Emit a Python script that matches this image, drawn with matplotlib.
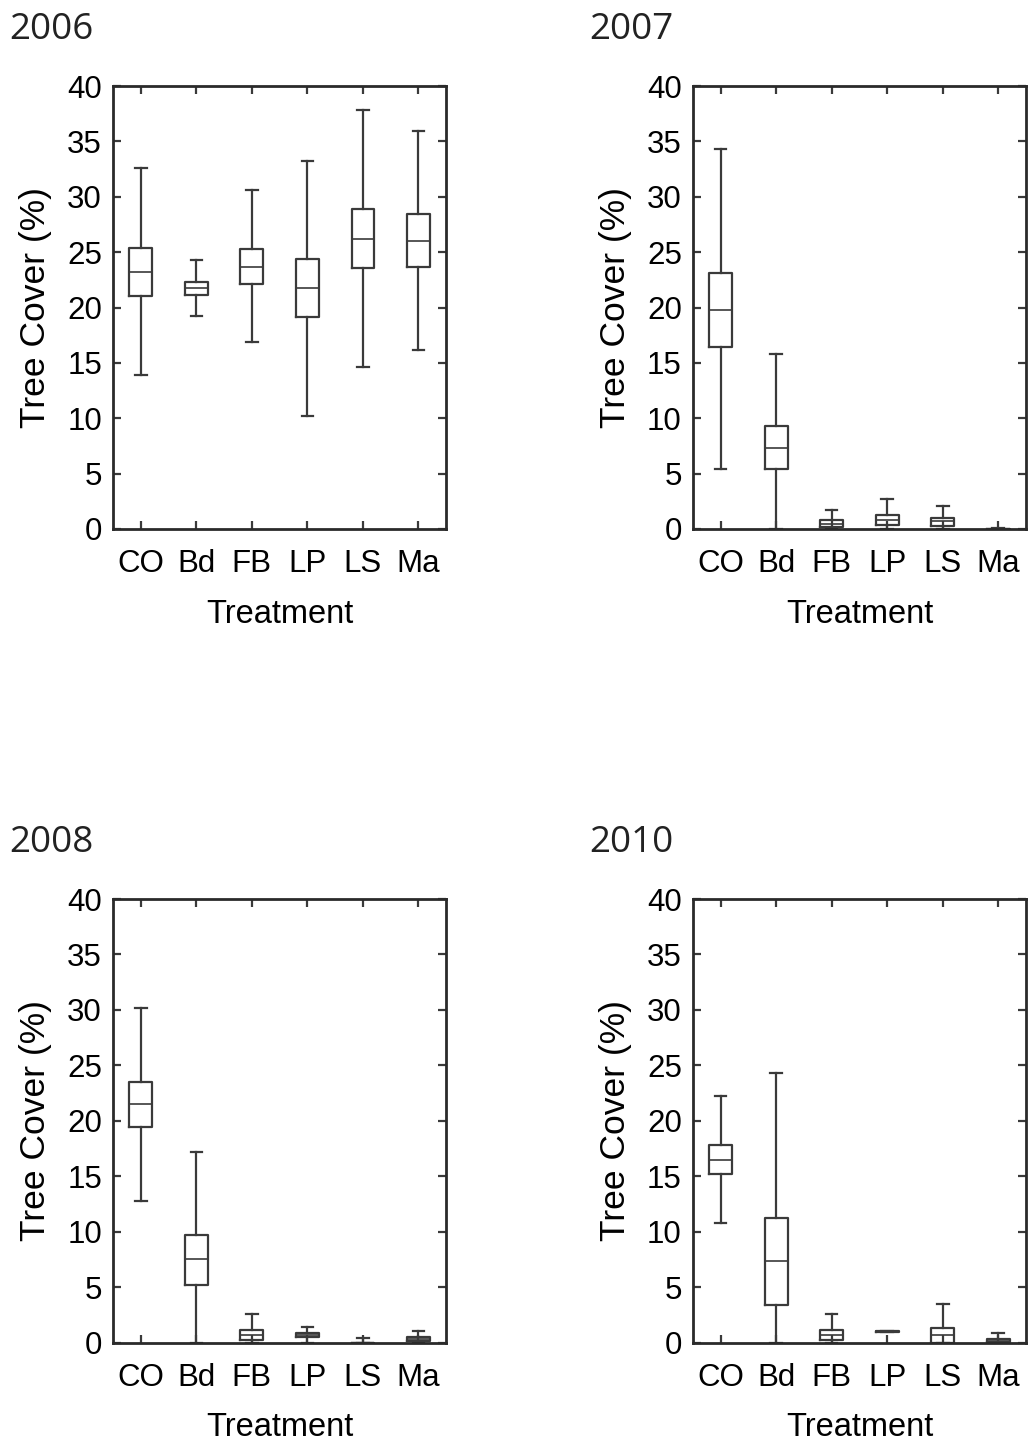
import matplotlib
matplotlib.use("Agg")
import matplotlib.pyplot as plt

# treatments on the x axis
treatments = ["CO", "Bd", "FB", "LP", "LS", "Ma"]
years = ["2006", "2007", "2008", "2010"]

# box stats per year, one value per treatment
# 2006
low_2006 = [13.9, 19.2, 16.9, 10.2, 14.6, 16.2]
q1_2006 = [21.0, 21.1, 22.1, 19.1, 23.6, 23.7]
med_2006 = [23.2, 21.8, 23.7, 21.8, 26.2, 26.0]
q3_2006 = [25.4, 22.3, 25.3, 24.4, 28.9, 28.4]
high_2006 = [32.6, 24.3, 30.6, 33.2, 37.8, 35.9]

# 2007
low_2007 = [5.4, 0.0, 0.0, 0.0, 0.0, 0.0]
q1_2007 = [16.4, 5.4, 0.15, 0.4, 0.3, 0.0]
med_2007 = [19.8, 7.3, 0.45, 0.85, 0.68, 0.0]
q3_2007 = [23.1, 9.3, 0.8, 1.25, 0.97, 0.02]
high_2007 = [34.3, 15.8, 1.7, 2.7, 2.1, 0.05]

# 2008
low_2008 = [12.8, 0.0, 0.0, 0.0, 0.0, 0.0]
q1_2008 = [19.4, 5.2, 0.2, 0.48, 0.0, 0.1]
med_2008 = [21.5, 7.5, 0.66, 0.66, 0.0, 0.33]
q3_2008 = [23.5, 9.7, 1.14, 0.84, 0.0, 0.5]
high_2008 = [30.2, 17.2, 2.55, 1.38, 0.45, 1.05]

# 2010
low_2010 = [10.8, 0.0, 0.0, 0.95, 0.0, 0.0]
q1_2010 = [15.2, 3.4, 0.2, 0.97, 0.0, 0.05]
med_2010 = [16.5, 7.4, 0.66, 1.0, 0.66, 0.2]
q3_2010 = [17.8, 11.2, 1.14, 1.03, 1.35, 0.36]
high_2010 = [22.2, 24.3, 2.55, 1.05, 3.5, 0.87]

data = {
    "2006": (low_2006, q1_2006, med_2006, q3_2006, high_2006),
    "2007": (low_2007, q1_2007, med_2007, q3_2007, high_2007),
    "2008": (low_2008, q1_2008, med_2008, q3_2008, high_2008),
    "2010": (low_2010, q1_2010, med_2010, q3_2010, high_2010),
}

col = "#3a3a3a"
plt.rcParams["font.family"] = ["Liberation Sans", "DejaVu Sans"]

fig = plt.figure(figsize=(10.28, 14.41), dpi=100)

# axes rectangles [left, bottom, width, height] in figure fraction
boxes = {
    "2006": [0.110, 0.6329, 0.324, 0.3074],
    "2007": [0.674, 0.6329, 0.324, 0.3074],
    "2008": [0.110, 0.0683, 0.324, 0.3078],
    "2010": [0.674, 0.0683, 0.324, 0.3078],
}
title_pos = {"2006": (0.009, 0.9727), "2007": (0.573, 0.9727),
             "2008": (0.009, 0.4085), "2010": (0.573, 0.4085)}

for yr in years:
    ax = fig.add_axes(boxes[yr])
    lo, q1, med, q3, hi = data[yr]
    stats = []
    for i, t in enumerate(treatments):
        stats.append({"label": t, "whislo": lo[i], "q1": q1[i], "med": med[i],
                      "q3": q3[i], "whishi": hi[i], "fliers": []})
    ax.bxp(stats, positions=range(1, 7), widths=0.41, capwidths=0.21,
           showfliers=False,
           boxprops=dict(color=col, linewidth=1.6),
           whiskerprops=dict(color=col, linewidth=1.6),
           capprops=dict(color=col, linewidth=1.6),
           medianprops=dict(color=col, linewidth=1.2))
    ax.set_xlim(0.5, 6.5)
    ax.set_ylim(0, 40)
    ax.set_yticks(range(0, 41, 5))
    ax.set_xticks(range(1, 7))
    ax.set_xticklabels(treatments)
    ax.tick_params(direction="in", length=6, width=1.6, color=col,
                   top=True, right=True, labelsize=22.5)
    ax.tick_params(axis="x", pad=14.5)
    ax.tick_params(axis="y", pad=8)
    for s in ax.spines.values():
        s.set_linewidth(2)
        s.set_color("#2a2a2a")
    ax.set_ylabel("Tree Cover (%)", fontsize=25.5, labelpad=11)
    ax.set_xlabel("Treatment", fontsize=23.5, labelpad=14)
    fig.text(title_pos[yr][0], title_pos[yr][1], yr, fontsize=26.5,
             family=["Open Sans", "DejaVu Sans"], va="baseline", ha="left",
             color="#222222")

fig.savefig("out.png", dpi=100)
